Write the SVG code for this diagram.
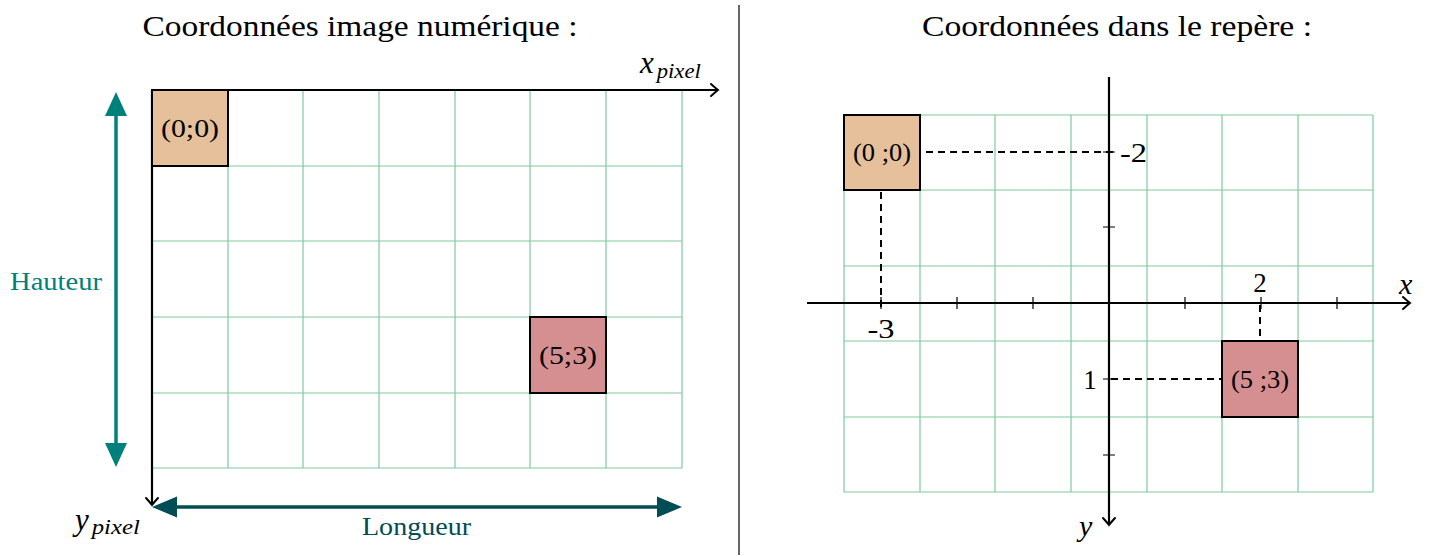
<svg xmlns="http://www.w3.org/2000/svg" width="1434" height="556" viewBox="0 0 1434 556">
<style>
.t{font-family:"Liberation Serif","DejaVu Serif",serif;fill:#000}
.ti{font-family:"Liberation Serif","DejaVu Serif",serif;font-style:italic;fill:#000}
.grid{stroke:#7ec99e;stroke-width:1.2;fill:none}
.ax{stroke:#000;stroke-width:2.2;fill:none}
.dash{stroke:#000;stroke-width:2;stroke-dasharray:7,5;fill:none}
.tick{stroke:#000;stroke-width:1.2}
.box{stroke:#000;stroke-width:2}
</style>
<defs>
<marker id="open" viewBox="-10 -8 12 16" refX="0" refY="0" markerWidth="12" markerHeight="16" markerUnits="userSpaceOnUse" orient="auto">
<path d="M-7,-6 Q-2,-1.5 0,0 Q-2,1.5 -7,6" fill="none" stroke="#000" stroke-width="2" stroke-linecap="round"/>
</marker>
</defs>

<g id="titles">
<text class="t" x="360" y="36" font-size="30" text-anchor="middle" textLength="435" lengthAdjust="spacingAndGlyphs">Coordonnées image numérique :</text>
<text class="t" x="1117" y="36" font-size="30" text-anchor="middle" textLength="390" lengthAdjust="spacingAndGlyphs">Coordonnées dans le repère :</text>
</g>

<line x1="739" y1="5" x2="739" y2="555" stroke="#000" stroke-width="1.2"/>

<g id="left-grid" class="grid">
<path d="M228,90V468M303,90V468M379,90V468M455,90V468M530,90V468M606,90V468M682,90V468"/>
<path d="M152,166H682M152,241H682M152,317H682M152,393H682M152,468H682"/>
</g>

<g id="left-connectors">
<line class="ax" x1="152" y1="90" x2="718" y2="90" marker-end="url(#open)"/>
<line class="ax" x1="152" y1="90" x2="152" y2="505" marker-end="url(#open)"/>
<line x1="116" y1="115" x2="116" y2="444" stroke="#00807a" stroke-width="3.5"/>
<path d="M116,92 L105,116 L127,116 z M116,467 L105,443 L127,443 z" fill="#00807a"/>
<line x1="176" y1="507" x2="658" y2="507" stroke="#004d55" stroke-width="3.5"/>
<path d="M152,507 L177,496.5 L177,517.5 z M682,507 L657,496.5 L657,517.5 z" fill="#004d55"/>
</g>

<g id="left-box00">
<rect class="box" x="152" y="90" width="76" height="76" fill="#e5c09a"/>
<text class="t" x="190" y="137" font-size="25" text-anchor="middle" textLength="58" lengthAdjust="spacingAndGlyphs">(0;0)</text>
</g>
<g id="left-box53">
<rect class="box" x="530" y="317" width="76" height="76" fill="#d68f90"/>
<text class="t" x="568" y="364" font-size="25" text-anchor="middle" textLength="58" lengthAdjust="spacingAndGlyphs">(5;3)</text>
</g>

<g id="left-labels">
<text class="ti" x="640" y="73" font-size="31">x<tspan font-size="22" dx="3" dy="5" textLength="44" lengthAdjust="spacingAndGlyphs">pixel</tspan></text>
<text class="ti" x="75" y="530" font-size="31">y<tspan font-size="22" dx="3" dy="4" textLength="48" lengthAdjust="spacingAndGlyphs">pixel</tspan></text>
<text class="t" x="10" y="290" font-size="25" textLength="92" lengthAdjust="spacingAndGlyphs" style="fill:#00807a">Hauteur</text>
<text class="t" x="362" y="535" font-size="25" textLength="109" lengthAdjust="spacingAndGlyphs" style="fill:#004d55">Longueur</text>
</g>

<g id="right-grid" class="grid">
<path d="M844,115V492M920,115V492M995,115V492M1071,115V492M1147,115V492M1222,115V492M1298,115V492M1373,115V492"/>
<path d="M844,115H1373M844,190H1373M844,266H1373M844,341H1373M844,417H1373M844,492H1373"/>
</g>

<g id="right-connectors">
<line class="ax" x1="807" y1="303" x2="1410" y2="303" marker-end="url(#open)"/>
<line class="ax" x1="1109" y1="77" x2="1109" y2="525" marker-end="url(#open)"/>
<path class="tick" d="M957,297V309M1033,297V309M1185,297V309M1337,297V309M1103,227H1115M1103,455H1115M1103,152H1115M1103,379H1115M881,297V309M1261,297V309"/>
<line class="dash" x1="926" y1="152" x2="1115" y2="152"/>
<line class="dash" x1="881" y1="192" x2="881" y2="309"/>
<line class="dash" x1="1111" y1="379" x2="1222" y2="379"/>
<line class="dash" x1="1260" y1="305" x2="1260" y2="341"/>
</g>

<g id="right-box00">
<rect class="box" x="844" y="115" width="76" height="75" fill="#e5c09a"/>
<text class="t" x="882" y="161" font-size="25" text-anchor="middle" textLength="58" lengthAdjust="spacingAndGlyphs">(0 ;0)</text>
</g>
<g id="right-box53">
<rect class="box" x="1222" y="341" width="76" height="76" fill="#d68f90"/>
<text class="t" x="1260" y="388" font-size="25" text-anchor="middle" textLength="58" lengthAdjust="spacingAndGlyphs">(5 ;3)</text>
</g>

<g id="right-labels">
<text class="t" x="1120" y="162" font-size="27" textLength="27" lengthAdjust="spacingAndGlyphs">-2</text>
<text class="t" x="1090" y="389" font-size="27" text-anchor="middle">1</text>
<text class="t" x="1260" y="292" font-size="27" text-anchor="middle">2</text>
<text class="t" x="881" y="338" font-size="27" text-anchor="middle" textLength="27" lengthAdjust="spacingAndGlyphs">-3</text>
<text class="ti" x="1399" y="294" font-size="30">x</text>
<text class="ti" x="1079" y="536" font-size="30">y</text>
</g>
</svg>
